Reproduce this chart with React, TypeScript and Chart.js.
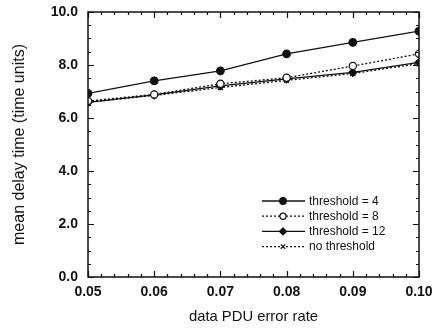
import React, { useEffect, useRef } from "react";
import { Chart, registerables } from "chart.js";
import { drawPoint } from "chart.js/helpers";

Chart.register(...registerables);

const errorRates = [0.05, 0.06, 0.07, 0.08, 0.09, 0.1];
const threshold4 = [6.93, 7.4, 7.78, 8.42, 8.85, 9.28];
const threshold8 = [6.64, 6.89, 7.29, 7.52, 7.96, 8.42];
const threshold12 = [6.59, 6.87, 7.21, 7.48, 7.72, 8.1];
const noThreshold = [6.6, 6.85, 7.15, 7.42, 7.68, 8.05];
const seriesLabels = ["threshold = 4", "threshold = 8", "threshold = 12", "no threshold"];

const INK = "#111111";
const FONT = "'Liberation Sans', Arial, Helvetica, sans-serif";

const frameTicks = {
  id: "frameTicks",
  afterDatasetsDraw(chart: any) {
    const { ctx, chartArea: a, scales } = chart;
    const xs = scales.x;
    const ys = scales.y;
    ctx.save();
    ctx.strokeStyle = INK;
    ctx.lineWidth = 1.5;
    ctx.strokeRect(a.left, a.top, a.right - a.left, a.bottom - a.top);
    ctx.lineWidth = 1.2;
    for (let i = 0; i <= 25; i++) {
      const v = 0.05 + i * 0.002;
      const px = Math.round(xs.getPixelForValue(v)) + 0.5;
      const len = i % 5 === 0 ? 6 : 3;
      ctx.beginPath();
      ctx.moveTo(px, a.bottom);
      ctx.lineTo(px, a.bottom - len);
      ctx.moveTo(px, a.top);
      ctx.lineTo(px, a.top + len);
      ctx.stroke();
    }
    for (let i = 0; i <= 20; i++) {
      const v = i * 0.5;
      const py = Math.round(ys.getPixelForValue(v)) + 0.5;
      const len = i % 4 === 0 ? 6 : 3;
      ctx.beginPath();
      ctx.moveTo(a.left, py);
      ctx.lineTo(a.left + len, py);
      ctx.moveTo(a.right, py);
      ctx.lineTo(a.right - len, py);
      ctx.stroke();
    }
    ctx.restore();
  },
};

const insideLegend = {
  id: "insideLegend",
  afterDatasetsDraw(chart: any) {
    const { ctx } = chart;
    const x0 = 262;
    const x1 = 305;
    const xm = 283;
    const tx = 309;
    const y0 = 201;
    const dy = 15.2;
    ctx.save();
    chart.data.datasets.forEach((ds: any, i: number) => {
      const y = y0 + i * dy;
      ctx.strokeStyle = ds.borderColor;
      ctx.lineWidth = ds.borderWidth;
      ctx.setLineDash(ds.borderDash || []);
      ctx.beginPath();
      ctx.moveTo(x0, y);
      ctx.lineTo(x1, y);
      ctx.stroke();
      ctx.setLineDash([]);
      ctx.fillStyle = ds.pointBackgroundColor;
      ctx.strokeStyle = ds.pointBorderColor;
      ctx.lineWidth = 1.2;
      drawPoint(ctx, { pointStyle: ds.pointStyle, radius: ds.pointRadius - 0.5, rotation: 0, borderWidth: 1.2 }, xm, y);
      ctx.fillStyle = INK;
      ctx.font = `12px ${FONT}`;
      ctx.textAlign = "left";
      ctx.textBaseline = "middle";
      ctx.fillText(ds.label, tx, y + 0.5);
    });
    ctx.restore();
  },
};

export default function App() {
  const ref = useRef<HTMLCanvasElement>(null);
  useEffect(() => {
    const mk = (label: string, vals: number[], dash: number[], style: string, fill: string, r: number) => ({
      label,
      data: errorRates.map((x, i) => ({ x, y: vals[i] })),
      borderColor: INK,
      borderWidth: 1.3,
      borderDash: dash,
      pointStyle: style,
      pointRadius: r,
      pointBackgroundColor: fill,
      pointBorderColor: INK,
      pointBorderWidth: 1.2,
      fill: false,
    });
    const chart = new Chart(ref.current!, {
      type: "line",
      data: {
        datasets: [
          mk(seriesLabels[0], threshold4, [], "circle", INK, 3.8),
          mk(seriesLabels[1], threshold8, [2, 2], "circle", "#ffffff", 3.6),
          mk(seriesLabels[2], threshold12, [], "rectRot", INK, 4),
          mk(seriesLabels[3], noThreshold, [2, 2], "crossRot", INK, 3.6),
        ],
      },
      options: {
        animation: false,
        responsive: false,
        layout: { padding: { left: 0, right: 23, top: 12, bottom: 0 } },
        plugins: { legend: { display: false }, tooltip: { enabled: false } },
        scales: {
          x: {
            type: "linear",
            min: 0.05,
            max: 0.1,
            afterFit: (s: any) => { s.height = 53; },
            ticks: {
              stepSize: 0.01,
              padding: 7,
              color: INK,
              font: { family: FONT, size: 14, weight: "bold" },
              callback: (v: any) => Number(v).toFixed(2),
            },
            grid: { display: false, drawTicks: false },
            border: { display: false },
            title: {
              display: true,
              text: "data PDU error rate",
              color: INK,
              font: { family: FONT, size: 14.8 },
              padding: { top: 0, bottom: 4 },
            },
          },
          y: {
            min: 0,
            max: 10,
            afterFit: (s: any) => { s.width = 88; s.paddingTop = 0; s.paddingBottom = 0; },
            ticks: {
              stepSize: 2,
              padding: 10,
              color: INK,
              font: { family: FONT, size: 14, weight: "bold" },
              callback: (v: any) => Number(v).toFixed(1),
            },
            grid: { display: false, drawTicks: false },
            border: { display: false },
            title: {
              display: true,
              text: "mean delay time (time units)",
              color: INK,
              font: { family: FONT, size: 16 },
              padding: { top: 10, bottom: 0 },
            },
          },
        },
      },
      plugins: [frameTicks, insideLegend],
    });
    return () => chart.destroy();
  }, []);
  return (
    <div style={{ position: "fixed", left: 0, top: 0, width: 442, height: 330, background: "#fff" }}>
      <canvas ref={ref} width={442} height={330} style={{ display: "block" }} />
    </div>
  );
}
